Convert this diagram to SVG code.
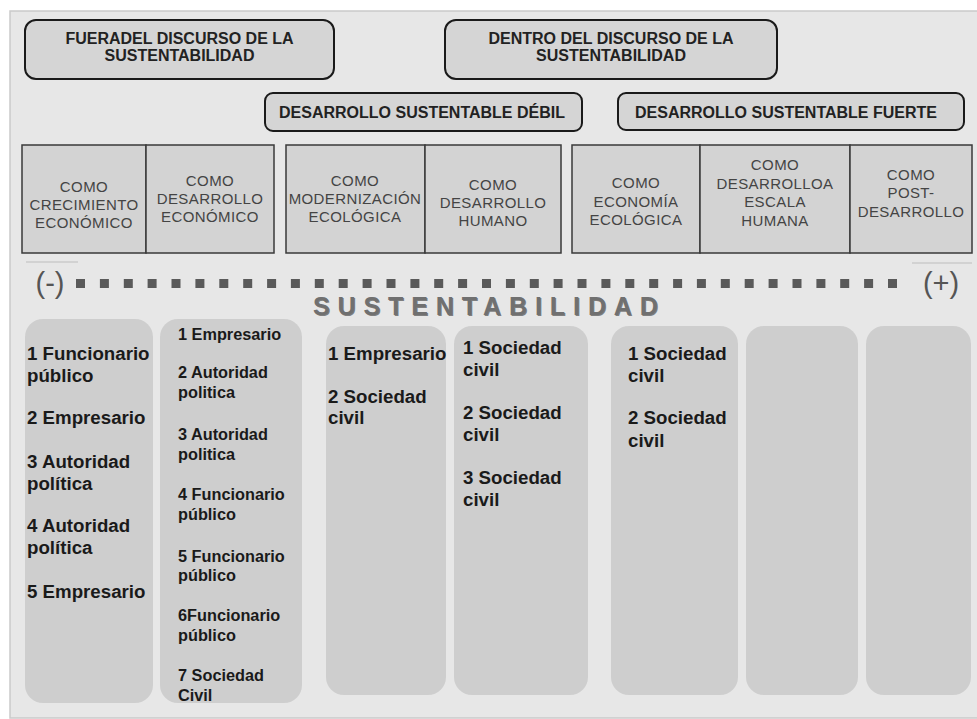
<svg xmlns="http://www.w3.org/2000/svg" width="977" height="719" viewBox="0 0 977 719">
<style>
.hdr{fill:#d5d5d5;stroke:#1a1a1a;stroke-width:2}
.ht{font-family:"Liberation Sans",Arial,sans-serif;font-weight:bold;font-size:16px;fill:#222;text-anchor:middle}
.cat{fill:#d3d3d3;stroke:#3a3a3a;stroke-width:1.5}
.ct{font-family:"Liberation Sans",Arial,sans-serif;font-size:15px;letter-spacing:0.4px;fill:#444;text-anchor:middle}
.col{fill:#cecece}
.big{font-family:"Liberation Sans",Arial,sans-serif;font-weight:bold;font-size:18.7px;fill:#1a1a1a}
.sm{font-family:"Liberation Sans",Arial,sans-serif;font-weight:bold;font-size:16.3px;fill:#1a1a1a}
.sq{fill:#5a5a5a}
.pm{font-family:"Liberation Sans",Arial,sans-serif;font-size:29px;fill:#555;text-anchor:middle}
</style>
<rect x="0" y="0" width="977" height="719" fill="#ffffff"/>
<rect x="10" y="11" width="970" height="707" fill="#e7e7e7" stroke="#cacaca" stroke-width="1.5"/>

<g id="fuera">
<rect class="hdr" x="25" y="20" width="309" height="59" rx="11"/>
<text class="ht" x="179.5" y="44">FUERADEL DISCURSO DE LA</text>
<text class="ht" x="179.5" y="61">SUSTENTABILIDAD</text>
</g>
<g id="dentro">
<rect class="hdr" x="445" y="20" width="332" height="59" rx="11"/>
<text class="ht" x="611" y="44">DENTRO DEL DISCURSO DE LA</text>
<text class="ht" x="611" y="61">SUSTENTABILIDAD</text>
</g>
<g id="debil">
<rect class="hdr" x="265" y="93" width="317" height="38" rx="8"/>
<text class="ht" x="422" y="118">DESARROLLO SUSTENTABLE DÉBIL</text>
</g>
<g id="fuerte">
<rect class="hdr" x="618" y="93" width="346" height="37" rx="8"/>
<text class="ht" x="786" y="118">DESARROLLO SUSTENTABLE FUERTE</text>
</g>

<g id="cat1">
<rect class="cat" x="22" y="145" width="124" height="108"/>
<text class="ct" x="84" y="192">COMO</text>
<text class="ct" x="84" y="210">CRECIMIENTO</text>
<text class="ct" x="84" y="228">ECONÓMICO</text>
</g>
<g id="cat2">
<rect class="cat" x="146" y="145" width="128" height="108"/>
<text class="ct" x="210" y="186">COMO</text>
<text class="ct" x="210" y="204">DESARROLLO</text>
<text class="ct" x="210" y="222">ECONÓMICO</text>
</g>
<g id="cat3">
<rect class="cat" x="286" y="145" width="139" height="108"/>
<text class="ct" x="355" y="186">COMO</text>
<text class="ct" x="355" y="204" letter-spacing="0">MODERNIZACIÓN</text>
<text class="ct" x="355" y="222">ECOLÓGICA</text>
</g>
<g id="cat4">
<rect class="cat" x="425" y="145" width="136" height="108"/>
<text class="ct" x="493" y="190">COMO</text>
<text class="ct" x="493" y="208">DESARROLLO</text>
<text class="ct" x="493" y="226">HUMANO</text>
</g>
<g id="cat5">
<rect class="cat" x="572" y="145" width="128" height="108"/>
<text class="ct" x="636" y="188">COMO</text>
<text class="ct" x="636" y="207">ECONOMÍA</text>
<text class="ct" x="636" y="225">ECOLÓGICA</text>
</g>
<g id="cat6">
<rect class="cat" x="700" y="145" width="150" height="108"/>
<text class="ct" x="775" y="170">COMO</text>
<text class="ct" x="775" y="189">DESARROLLOA</text>
<text class="ct" x="775" y="207">ESCALA</text>
<text class="ct" x="775" y="226">HUMANA</text>
</g>
<g id="cat7">
<rect class="cat" x="850" y="145" width="122" height="108"/>
<text class="ct" x="911" y="180">COMO</text>
<text class="ct" x="911" y="198">POST-</text>
<text class="ct" x="911" y="217">DESARROLLO</text>
</g>

<g id="scale">
<line x1="26" y1="262" x2="78" y2="262" stroke="#d2d2d2" stroke-width="2"/>
<line x1="912" y1="263" x2="972" y2="263" stroke="#d2d2d2" stroke-width="2"/>
<text class="pm" x="50" y="293">(-)</text>
<text class="pm" x="941" y="293">(+)</text>
<g id="dots">
<rect class="sq" x="76" y="279" width="9" height="9"/><rect class="sq" x="99.9" y="279" width="9" height="9"/><rect class="sq" x="123.8" y="279" width="9" height="9"/><rect class="sq" x="147.6" y="279" width="9" height="9"/><rect class="sq" x="171.5" y="279" width="9" height="9"/><rect class="sq" x="195.4" y="279" width="9" height="9"/><rect class="sq" x="219.3" y="279" width="9" height="9"/><rect class="sq" x="243.2" y="279" width="9" height="9"/><rect class="sq" x="267.1" y="279" width="9" height="9"/><rect class="sq" x="290.9" y="279" width="9" height="9"/><rect class="sq" x="314.8" y="279" width="9" height="9"/><rect class="sq" x="338.7" y="279" width="9" height="9"/><rect class="sq" x="362.6" y="279" width="9" height="9"/><rect class="sq" x="386.5" y="279" width="9" height="9"/><rect class="sq" x="410.4" y="279" width="9" height="9"/><rect class="sq" x="434.2" y="279" width="9" height="9"/><rect class="sq" x="458.1" y="279" width="9" height="9"/><rect class="sq" x="482" y="279" width="9" height="9"/><rect class="sq" x="505.9" y="279" width="9" height="9"/><rect class="sq" x="529.8" y="279" width="9" height="9"/><rect class="sq" x="553.6" y="279" width="9" height="9"/><rect class="sq" x="577.5" y="279" width="9" height="9"/><rect class="sq" x="601.4" y="279" width="9" height="9"/><rect class="sq" x="625.3" y="279" width="9" height="9"/><rect class="sq" x="649.2" y="279" width="9" height="9"/><rect class="sq" x="673.1" y="279" width="9" height="9"/><rect class="sq" x="696.9" y="279" width="9" height="9"/><rect class="sq" x="720.8" y="279" width="9" height="9"/><rect class="sq" x="744.7" y="279" width="9" height="9"/><rect class="sq" x="768.6" y="279" width="9" height="9"/><rect class="sq" x="792.5" y="279" width="9" height="9"/><rect class="sq" x="816.4" y="279" width="9" height="9"/><rect class="sq" x="840.2" y="279" width="9" height="9"/><rect class="sq" x="864.1" y="279" width="9" height="9"/><rect class="sq" x="888" y="279" width="9" height="9"/>
</g>
<text x="314" y="316" font-family="Liberation Sans, Arial, sans-serif" font-weight="bold" font-size="25" letter-spacing="7.9" fill="#2a2a2a" opacity="0.55">SUSTENTABILIDAD</text>
<text x="313" y="315" font-family="Liberation Sans, Arial, sans-serif" font-weight="bold" font-size="25" letter-spacing="7.9" fill="#707070">SUSTENTABILIDAD</text>
</g>

<g id="colA">
<rect class="col" x="25" y="319" width="128" height="384" rx="18"/>
<text class="big" x="27" y="360">1 Funcionario</text>
<text class="big" x="27" y="382">público</text>
<text class="big" x="27" y="424">2 Empresario</text>
<text class="big" x="27" y="468">3 Autoridad</text>
<text class="big" x="27" y="490">política</text>
<text class="big" x="27" y="532">4 Autoridad</text>
<text class="big" x="27" y="554">política</text>
<text class="big" x="27" y="598">5 Empresario</text>
</g>
<g id="colB">
<rect class="col" x="160" y="319" width="142" height="384" rx="18"/>
<text class="sm" x="178" y="340">1 Empresario</text>
<text class="sm" x="178" y="378">2 Autoridad</text>
<text class="sm" x="178" y="398">politica</text>
<text class="sm" x="178" y="440">3 Autoridad</text>
<text class="sm" x="178" y="460">politica</text>
<text class="sm" x="178" y="500">4 Funcionario</text>
<text class="sm" x="178" y="520">público</text>
<text class="sm" x="178" y="562">5 Funcionario</text>
<text class="sm" x="178" y="581">público</text>
<text class="sm" x="178" y="621">6Funcionario</text>
<text class="sm" x="178" y="641">público</text>
<text class="sm" x="178" y="681">7 Sociedad</text>
<text class="sm" x="178" y="701">Civil</text>
</g>
<g id="colC">
<rect class="col" x="326" y="326" width="120" height="369" rx="18"/>
<text class="big" x="328" y="360">1 Empresario</text>
<text class="big" x="328" y="403">2 Sociedad</text>
<text class="big" x="328" y="424">civil</text>
</g>
<g id="colD">
<rect class="col" x="454" y="326" width="134" height="369" rx="18"/>
<text class="big" x="463" y="354">1 Sociedad</text>
<text class="big" x="463" y="376">civil</text>
<text class="big" x="463" y="419">2 Sociedad</text>
<text class="big" x="463" y="441">civil</text>
<text class="big" x="463" y="484">3 Sociedad</text>
<text class="big" x="463" y="506">civil</text>
</g>
<g id="colE">
<rect class="col" x="611" y="326" width="127" height="369" rx="18"/>
<text class="big" x="628" y="360">1 Sociedad</text>
<text class="big" x="628" y="382">civil</text>
<text class="big" x="628" y="424">2 Sociedad</text>
<text class="big" x="628" y="447">civil</text>
</g>
<g id="colF">
<rect class="col" x="746" y="326" width="112" height="369" rx="18"/>
</g>
<g id="colG">
<rect class="col" x="866" y="326" width="105" height="369" rx="18"/>
</g>
<g id="connectors"></g>
</svg>
